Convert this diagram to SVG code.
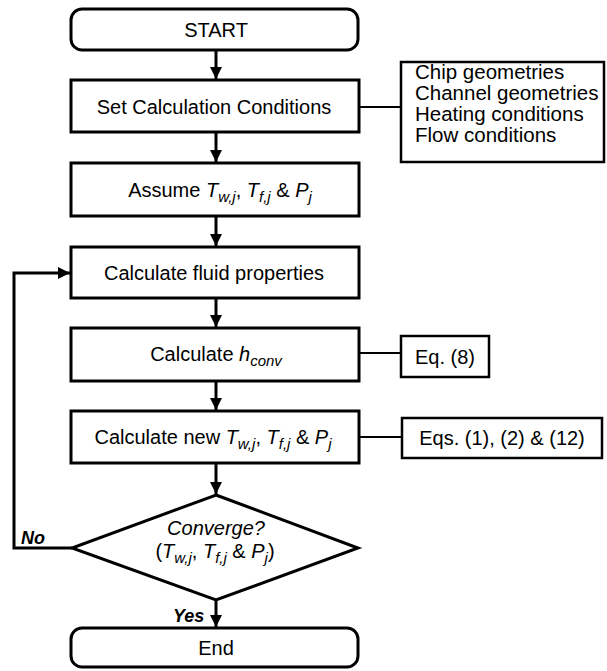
<svg xmlns="http://www.w3.org/2000/svg" width="607" height="671" viewBox="0 0 607 671">
<style>
text{font-family:"Liberation Sans",Arial,sans-serif;font-size:20px;fill:#000}
.box{fill:#fff;stroke:#000;stroke-width:3}
.side{fill:#fff;stroke:#000;stroke-width:2.5}
.ln{fill:none;stroke:#000;stroke-width:3}
.thin{fill:none;stroke:#000;stroke-width:2}
.i{font-style:italic}
.s{font-size:15px;font-style:italic}
.lst{font-size:20.5px}
.lbl{font-weight:bold;font-style:italic;font-size:18px}
</style>
<defs>
<marker id="ah" markerUnits="userSpaceOnUse" markerWidth="12" markerHeight="12" viewBox="0 0 12 12" refX="12" refY="6" orient="auto">
<path d="M0,0 L12,6 L0,12 z" fill="#000"/>
</marker>
</defs>
<g id="connectors">
<line class="ln" x1="216" y1="50" x2="216" y2="79" marker-end="url(#ah)"/>
<line class="ln" x1="216" y1="132" x2="216" y2="162" marker-end="url(#ah)"/>
<line class="ln" x1="216" y1="216" x2="216" y2="246" marker-end="url(#ah)"/>
<line class="ln" x1="216" y1="298" x2="216" y2="327" marker-end="url(#ah)"/>
<line class="ln" x1="216" y1="381" x2="216" y2="410" marker-end="url(#ah)"/>
<line class="ln" x1="216" y1="463" x2="216" y2="494" marker-end="url(#ah)"/>
<line class="ln" x1="216" y1="600" x2="216" y2="627" marker-end="url(#ah)"/>
<polyline class="ln" points="72,548 14,548 14,273 70,273" marker-end="url(#ah)"/>
<line class="thin" x1="359" y1="107" x2="401" y2="107"/>
<line class="thin" x1="359" y1="353" x2="401" y2="353"/>
<line class="thin" x1="359" y1="437" x2="402" y2="437"/>
<text class="lbl" x="21" y="544">No</text>
<text class="lbl" x="173" y="622">Yes</text>
</g>
<g id="start">
<rect class="box" x="71" y="9" width="287" height="41" rx="11"/>
<text x="216" y="37" text-anchor="middle">START</text>
</g>
<g id="set-conditions">
<rect class="box" x="71" y="80" width="288" height="52"/>
<text x="214" y="114" text-anchor="middle">Set Calculation Conditions</text>
</g>
<g id="conditions-list">
<rect class="side" x="401" y="62" width="203" height="100"/>
<text class="lst" x="415" y="79">Chip geometries</text>
<text class="lst" x="415" y="100">Channel geometries</text>
<text class="lst" x="415" y="121">Heating conditions</text>
<text class="lst" x="415" y="142">Flow conditions</text>
</g>
<g id="assume">
<rect class="box" x="71" y="163" width="288" height="53"/>
<text x="220" y="197" text-anchor="middle">Assume <tspan class="i">T</tspan><tspan class="s" dy="5">w,j</tspan><tspan dy="-5">, </tspan><tspan class="i">T</tspan><tspan class="s" dy="5">f,j</tspan><tspan dy="-5"> &amp;  </tspan><tspan class="i">P</tspan><tspan class="s" dy="5">j</tspan></text>
</g>
<g id="fluid-properties">
<rect class="box" x="71" y="247" width="288" height="51"/>
<text x="214" y="280" text-anchor="middle">Calculate fluid properties</text>
</g>
<g id="hconv">
<rect class="box" x="71" y="328" width="288" height="53"/>
<text x="216" y="361" text-anchor="middle">Calculate <tspan class="i">h</tspan><tspan class="s" dy="5">conv</tspan></text>
</g>
<g id="eq8">
<rect class="side" x="401" y="336" width="88" height="41"/>
<text x="445" y="364" text-anchor="middle">Eq. (8)</text>
</g>
<g id="calc-new">
<rect class="box" x="71" y="411" width="288" height="52"/>
<text x="213" y="444" text-anchor="middle">Calculate new <tspan class="i">T</tspan><tspan class="s" dy="5">w,j</tspan><tspan dy="-5">, </tspan><tspan class="i">T</tspan><tspan class="s" dy="5">f,j</tspan><tspan dy="-5"> &amp;  </tspan><tspan class="i">P</tspan><tspan class="s" dy="5">j</tspan></text>
</g>
<g id="eqs">
<rect class="side" x="402" y="418" width="200" height="40"/>
<text x="502" y="445" text-anchor="middle">Eqs. (1), (2) &amp; (12)</text>
</g>
<g id="converge">
<polygon class="box" points="216,495 358,548 216,600 72,548"/>
<text class="i" x="216" y="535" text-anchor="middle">Converge?</text>
<text x="215" y="558" text-anchor="middle">(<tspan class="i">T</tspan><tspan class="s" dy="5">w,j</tspan><tspan dy="-5">, </tspan><tspan class="i">T</tspan><tspan class="s" dy="5">f,j</tspan><tspan dy="-5"> &amp;  </tspan><tspan class="i">P</tspan><tspan class="s" dy="5">j</tspan><tspan dy="-5">)</tspan></text>
</g>
<g id="end">
<rect class="box" x="71" y="628" width="287" height="39" rx="11"/>
<text x="216" y="655" text-anchor="middle">End</text>
</g>
</svg>
